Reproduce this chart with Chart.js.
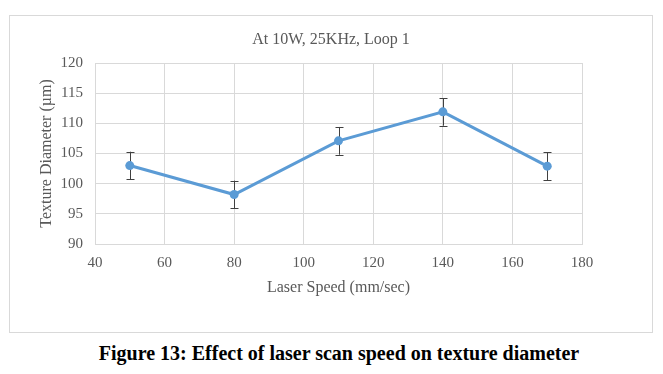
<!DOCTYPE html>
<html>
<head>
<meta charset="utf-8">
<script src="https://cdn.jsdelivr.net/npm/chart.js@4"></script>
<style>
  body { margin: 0; background: #fff; width: 663px; height: 374px; position: relative; overflow: hidden; }
  #box { position: absolute; left: 9px; top: 15px; width: 642px; height: 316px; border: 1px solid #d9d9d9; }
  #caption { position: absolute; left: 0; top: 342px; width: 678px; text-align: center;
             font: bold 20px "Liberation Serif", "Times New Roman", serif; color: #000; white-space: nowrap; }
</style>
</head>
<body>
<div id="box"><canvas id="myChart" width="642" height="316"></canvas></div>
<div id="caption">Figure 13: Effect of laser scan speed on texture diameter</div>
<script>
// dane
const speeds = [50, 80, 110, 140, 170];
const diameters = [103, 98.2, 107.1, 111.9, 102.9];
const errors = [2.3, 2.3, 2.3, 2.3, 2.3];

const textColor = '#595959';
const gridColor = '#d9d9d9';
const serif = '"Liberation Serif", "Times New Roman", serif';

// slupki bledow rysowane na skalach wykresu
const errorBars = {
  id: 'errorBars',
  beforeDatasetsDraw(chart) {
    const { ctx, scales: { x, y } } = chart;
    ctx.save();
    ctx.strokeStyle = '#404040';
    ctx.lineWidth = 1;
    speeds.forEach((s, i) => {
      const px = Math.round(x.getPixelForValue(s)) + 0.5;
      const top = y.getPixelForValue(diameters[i] + errors[i]);
      const bot = y.getPixelForValue(diameters[i] - errors[i]);
      ctx.beginPath();
      ctx.moveTo(px, top); ctx.lineTo(px, bot);
      ctx.moveTo(px - 4, Math.round(top) + 0.5); ctx.lineTo(px + 4, Math.round(top) + 0.5);
      ctx.moveTo(px - 4, Math.round(bot) + 0.5); ctx.lineTo(px + 4, Math.round(bot) + 0.5);
      ctx.stroke();
    });
    ctx.restore();
  }
};

const canvas = document.getElementById('myChart');
const chart = new Chart(canvas, {
  type: 'scatter',
  data: {
    datasets: [{
      data: speeds.map((s, i) => ({ x: s, y: diameters[i] })),
      showLine: true,
      borderColor: '#5B9BD5',
      backgroundColor: '#5B9BD5',
      borderWidth: 3,
      pointRadius: 4.5,
      pointBorderWidth: 0,
      tension: 0
    }]
  },
  plugins: [errorBars],
  options: {
    responsive: false,
    animation: false,
    layout: { padding: 0 },
    plugins: {
      legend: { display: false },
      tooltip: { enabled: false },
      title: {
        display: true,
        text: 'At 10W, 25KHz, Loop 1',
        color: textColor,
        font: { family: serif, size: 16, weight: 'normal', lineHeight: 1.2 },
        padding: { top: 14.4, bottom: 13.4 }
      }
    },
    scales: {
      x: {
        type: 'linear',
        min: 40, max: 180,
        ticks: { stepSize: 20, color: textColor, font: { family: serif, size: 15 }, padding: 10 },
        grid: { color: gridColor, drawTicks: false },
        border: { color: gridColor },
        title: {
          display: true, text: 'Laser Speed (mm/sec)', color: textColor,
          font: { family: serif, size: 16, lineHeight: 1.2 }, padding: { top: 0, bottom: 34.4 }
        },
        afterFit: s => { s.height = 88; }
      },
      y: {
        min: 90, max: 120,
        ticks: { stepSize: 5, color: textColor, font: { family: serif, size: 15 }, padding: 12 },
        grid: { color: gridColor, drawTicks: false },
        border: { color: gridColor },
        title: {
          display: true, text: 'Texture Diameter (µm)', color: textColor,
          font: { family: serif, size: 16, lineHeight: 1.2 }, padding: { top: 27.4, bottom: 0 }
        },
        afterFit: s => { s.width = 85; }
      },
      y2: {
        position: 'right',
        min: 90, max: 120,
        ticks: { display: false },
        grid: { display: false, drawTicks: false },
        border: { display: false },
        afterFit: s => { s.width = 70; }
      }
    }
  }
});
</script>
</body>
</html>
